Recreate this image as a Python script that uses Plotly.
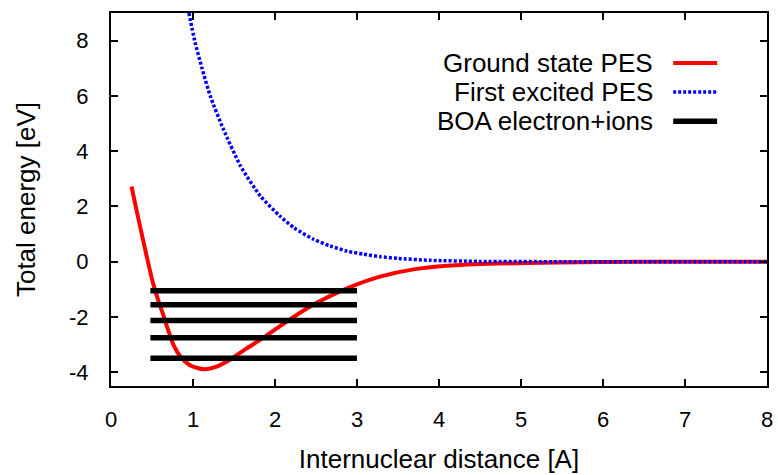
import plotly.graph_objects as go

# Ground state PES
ground_x = [0.25, 0.32, 0.39, 0.45, 0.51, 0.57, 0.64, 0.70, 0.76, 0.85, 0.95, 1.05, 1.15,
            1.27, 1.45, 1.65, 1.86, 2.15, 2.43, 2.76, 3.00, 3.28, 3.69, 4.10, 4.71, 5.44,
            6.00, 7.00, 8.00]
ground_y = [2.72, 1.75, 0.80, 0.00, -0.75, -1.35, -1.95, -2.50, -3.00, -3.45, -3.72, -3.85, -3.89,
            -3.82, -3.55, -3.15, -2.75, -2.15, -1.62, -1.12, -0.82, -0.54, -0.28, -0.15, -0.07, -0.03,
            -0.01, 0.00, 0.00]

# First excited PES
excited_x = [0.95, 1.02, 1.11, 1.21, 1.37, 1.58, 1.82, 2.06, 2.23, 2.47, 2.67, 2.88, 3.08,
             3.28, 3.49, 3.89, 4.50, 5.50, 6.50, 8.00]
excited_y = [9.00, 8.00, 7.00, 6.00, 4.80, 3.46, 2.38, 1.65, 1.23, 0.81, 0.57, 0.38, 0.27,
             0.18, 0.12, 0.05, 0.01, 0.00, 0.00, 0.00]

# BOA electron+ions levels
boa_levels = [-3.50, -2.75, -2.13, -1.56, -1.05]
boa_x_start = 0.48
boa_x_end = 3.0

legend_labels = ["Ground state PES", "First excited PES", "BOA electron+ions"]
x_ticks = [0, 1, 2, 3, 4, 5, 6, 7, 8]
y_ticks = [-4, -2, 0, 2, 4, 6, 8]

FONT = "Liberation Sans"
RED = "#ff0000"
BLUE = "#0000ff"
BLACK = "#000000"

boa_x, boa_y = [], []
for lv in boa_levels:
    boa_x += [boa_x_start, boa_x_end, None]
    boa_y += [lv, lv, None]

fig = go.Figure()
fig.add_trace(go.Scatter(x=ground_x, y=ground_y, mode="lines", name=legend_labels[0],
                         line=dict(color=RED, width=4, shape="spline", smoothing=0.6),
                         showlegend=False))
fig.add_trace(go.Scatter(x=excited_x, y=excited_y, mode="lines", name=legend_labels[1],
                         line=dict(color=BLUE, width=3.5, dash="3px,2px", shape="spline", smoothing=0.6),
                         showlegend=False))
fig.add_trace(go.Scatter(x=boa_x, y=boa_y, mode="lines", name=legend_labels[2],
                         line=dict(color=BLACK, width=5.5), showlegend=False))

# manual gnuplot-style legend (text left, sample right)
leg_rows = [0.866, 0.788, 0.710]
leg_styles = [dict(color=RED, width=4), dict(color=BLUE, width=3.5, dash="3px,2px"),
              dict(color=BLACK, width=5.5)]
for label, yy, st in zip(legend_labels, leg_rows, leg_styles):
    fig.add_annotation(x=0.8297, y=yy, xref="paper", yref="paper", text=label,
                       showarrow=False, xanchor="right", yanchor="middle",
                       font=dict(family=FONT, size=26, color="black"))
    fig.add_shape(type="line", xref="paper", yref="paper", x0=0.857, x1=0.924,
                  y0=yy, y1=yy, line=st)

axis_common = dict(showline=True, linecolor="black", linewidth=2, mirror="ticks",
                   ticks="inside", ticklen=7, tickwidth=2, tickcolor="black",
                   showgrid=False, zeroline=False,
                   tickfont=dict(family=FONT, size=22, color="black"))

fig.update_xaxes(range=[0, 8], tickvals=x_ticks, ticktext=[str(v) for v in x_ticks],
                 ticklabelstandoff=13,
                 title=dict(text="Internuclear distance [A]", standoff=18,
                            font=dict(family=FONT, size=26, color="black")),
                 **axis_common)
fig.update_yaxes(range=[-4.5, 9], tickvals=y_ticks, ticktext=[str(v) for v in y_ticks],
                 ticklabelstandoff=16,
                 title=dict(text="Total energy [eV]", standoff=26,
                            font=dict(family=FONT, size=26, color="black")),
                 **axis_common)

fig.update_layout(width=778, height=475, margin=dict(l=111, r=11, t=13, b=89, autoexpand=False),
                  paper_bgcolor="white", plot_bgcolor="white", showlegend=False)

fig.write_html("out.html")
